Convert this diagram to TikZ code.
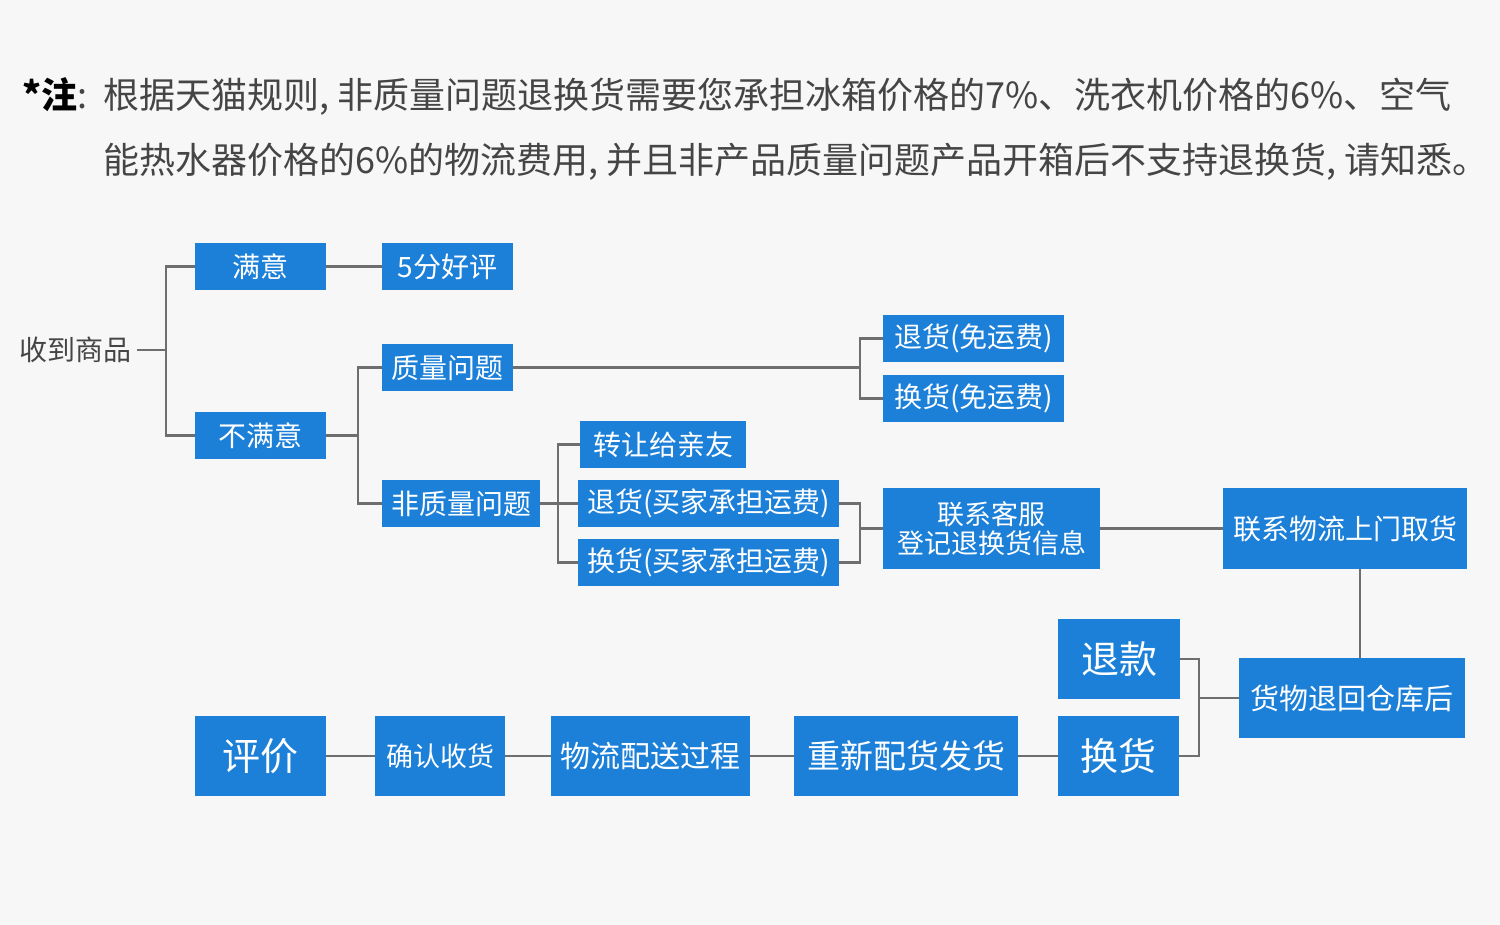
\documentclass[tikz,border=0pt]{standalone}
\usepackage{fontspec}
\newfontfamily\cjk{Noto Sans CJK SC}
\definecolor{bg}{HTML}{F7F7F7}
\definecolor{boxblue}{HTML}{1C80D8}
\definecolor{linegray}{HTML}{6E6E6E}
\definecolor{txtgray}{HTML}{454545}
\tikzset{
  box/.style={fill=boxblue, text=white, inner sep=0pt, anchor=center, align=center,
    font=\cjk\fontsize{28}{28}\selectfont},
  small/.style={minimum height=47pt},
  tall/.style={minimum height=80pt},
  conn/.style={draw=linegray, line width=2.5pt},
  plain/.style={inner sep=0pt, text=txtgray, font=\cjk\fontsize{28}{28}\selectfont},
  titletext/.style={inner sep=0pt, text=txtgray, anchor=base west, font=\cjk\fontsize{36}{36}\selectfont},
}
\begin{document}
\begin{tikzpicture}[x=1pt,y=-1pt]
\path[fill=bg] (0,0) rectangle (1500,925);
\useasboundingbox (0,0) rectangle (1500,925);

% title
\node[titletext] (t0) at (22,108.5) {\textcolor{black}{\bfseries *注}:};
\node[titletext] (t1) at (103,108.5) {根据天猫规则, 非质量问题退换货需要您承担冰箱价格的7\%、洗衣机价格的6\%、空气};
\node[titletext] (t2) at (103,173.5) {能热水器价格的6\%的物流费用, 并且非产品质量问题产品开箱后不支持退换货, 请知悉。};

% tree
\node[plain, anchor=east] (recv) at (132,350) {收到商品};
\node[box, small, minimum width=131pt] (sat) at (260.5,266.5) {满意};
\node[box, small, minimum width=131pt] (good) at (447.5,266.5) {5分好评};
\node[box, small, minimum width=131pt] (unsat) at (260.5,435.5) {不满意};
\node[box, small, minimum width=131pt] (qual) at (447.5,367.5) {质量问题};
\node[box, small, minimum width=158pt] (nonq) at (461,503.5) {非质量问题};
\node[box, small, minimum width=181pt] (ret1) at (973.5,338.5) {退货(免运费)};
\node[box, small, minimum width=181pt] (exc1) at (973.5,398.5) {换货(免运费)};
\node[box, small, minimum width=166pt] (give) at (663,444.5) {转让给亲友};
\node[box, small, minimum width=261pt] (ret2) at (708.5,503.5) {退货(买家承担运费)};
\node[box, small, minimum width=261pt] (exc2) at (708.5,562.5) {换货(买家承担运费)};
\node[box, minimum width=217pt, minimum height=81pt, font=\cjk\fontsize{27}{29}\selectfont] (cs) at (991.5,528.5) {联系客服\\登记退换货信息};
\node[box, minimum width=244pt, minimum height=81pt] (pick) at (1345,528.5) {联系物流上门取货};
\node[box, tall, minimum width=226pt, font=\cjk\fontsize{29}{29}\selectfont] (back) at (1352,698) {货物退回仓库后};
\node[box, tall, minimum width=122pt, font=\cjk\fontsize{38}{38}\selectfont] (refund) at (1119,659) {退款};
\node[box, tall, minimum width=121pt, font=\cjk\fontsize{38}{38}\selectfont] (exc3) at (1118.5,756) {换货};
\node[box, tall, minimum width=131pt, font=\cjk\fontsize{38}{38}\selectfont] (eval) at (260.5,756) {评价};
\node[box, tall, minimum width=130pt, font=\cjk\fontsize{27}{27}\selectfont] (conf) at (440,756) {确认收货};
\node[box, tall, minimum width=199pt, font=\cjk\fontsize{30}{30}\selectfont] (logi) at (650.5,756) {物流配送过程};
\node[box, tall, minimum width=224pt, font=\cjk\fontsize{33}{33}\selectfont] (resend) at (906,756) {重新配货发货};

% junctions
\coordinate (j1) at (166,350);
\coordinate (j2) at (358,435.5);
\coordinate (j3) at (860,367.5);
\coordinate (j4) at (558,503.5);
\coordinate (j5) at (860,528.5);
\coordinate (j6) at (1360,600);
\coordinate (j7) at (1199,698);

% connectors
\draw[conn] ([xshift=5pt]recv.east) -- (j1);
\draw[conn] (sat.west) -| (j1) |- (unsat.west);
\draw[conn] (sat.east) -- (good.west);
\draw[conn] (unsat.east) -- (j2);
\draw[conn] (qual.west) -| (j2) |- (nonq.west);
\draw[conn] (qual.east) -- (j3);
\draw[conn] (ret1.west) -| (j3) |- (exc1.west);
\draw[conn] (nonq.east) -- (j4);
\draw[conn] (give.west) -| (j4) |- (exc2.west);
\draw[conn] (j4) -- (ret2.west);
\draw[conn] (ret2.east) -| (j5) |- (exc2.east);
\draw[conn] (j5) -- (cs.west);
\draw[conn] (cs.east) -- (pick.west);
\draw[conn] (pick.south -| j6) -- (back.north -| j6);
\draw[conn] (back.west) -- (j7);
\draw[conn] (refund.east) -| (j7) |- (exc3.east);
\draw[conn] (eval.east) -- (conf.west);
\draw[conn] (conf.east) -- (logi.west);
\draw[conn] (logi.east) -- (resend.west);
\draw[conn] (resend.east) -- (exc3.west);
\end{tikzpicture}
\end{document}
